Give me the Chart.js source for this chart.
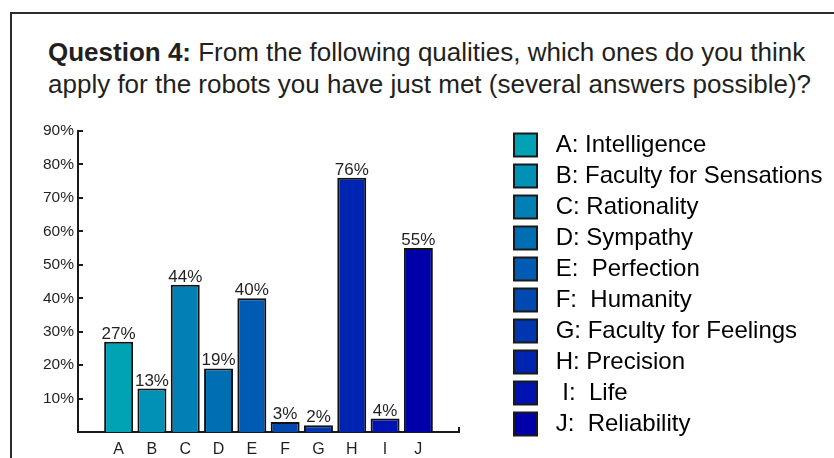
<!DOCTYPE html>
<html>
<head>
<meta charset="utf-8">
<script src="https://cdn.jsdelivr.net/npm/chart.js@4.4.1/dist/chart.umd.min.js"></script>
<style>
  html, body { margin: 0; padding: 0; background: #fff; }
  #wrap { position: relative; width: 834px; height: 458px; overflow: hidden; }
  #moldura { position: absolute; left: 10px; top: 12px; right: -4px; bottom: -4px; border-left: 2px solid #2b2b2b; border-top: 2px solid #2b2b2b; }
  #titulo { position: absolute; left: 48px; top: 36px; margin: 0; font: 26px/32px "Liberation Sans", Arial, sans-serif; color: #231f20; white-space: nowrap; }
  canvas { position: absolute; left: 0; top: 0; }
</style>
</head>
<body>
<div id="wrap">
  <div id="moldura"></div>
  <p id="titulo"><b>Question 4:</b> From the following qualities, which ones do you think<br>apply for the robots you have just met (several answers possible)?</p>
  <canvas id="grafico" width="834" height="458"></canvas>
</div>
<script>
// Dados (percentual de respostas por qualidade)
const letras = ["A", "B", "C", "D", "E", "F", "G", "H", "I", "J"];
const valores = [27, 13, 44, 19, 40, 3, 2, 76, 4, 55];
const nomes = [" A: Intelligence", " B: Faculty for Sensations", " C: Rationality", " D: Sympathy", " E:  Perfection",
  " F:  Humanity", " G: Faculty for Feelings", " H: Precision", "  I:  Life", " J:  Reliability"];
const cores = ["#00a3b4", "#0091b6", "#0080b5", "#006eb2", "#005bb3", "#0049b0", "#0037b0", "#0024b2", "#0012b0", "#0000a8"];

const FONTE = "'Liberation Sans', Arial, sans-serif";
const TINTA = "#231f20";
const EIXO = "#1a1a1a";

Chart.defaults.font.family = FONTE;
Chart.defaults.font.size = 16;
Chart.defaults.color = TINTA;

// marcas internas, traço final do eixo x, rótulos das barras e posição da legenda
const extras = {
  id: "extras",
  afterLayout(chart) {
    const lg = chart.legend;
    lg.left = 507; lg.right = 834; lg.top = 126; lg.bottom = 458;
  },
  afterDraw(chart) {
    const { ctx, chartArea: a, scales: { y } } = chart;
    ctx.save();
    ctx.strokeStyle = EIXO; ctx.lineWidth = 2;
    y.ticks.forEach((t) => {
      if (!t.value) return;
      const py = Math.round(y.getPixelForValue(t.value));
      ctx.beginPath(); ctx.moveTo(a.left, py); ctx.lineTo(a.left + 5, py); ctx.stroke();
    });
    ctx.beginPath(); ctx.moveTo(a.right, a.bottom); ctx.lineTo(a.right, a.bottom - 5); ctx.stroke();

    ctx.fillStyle = TINTA; ctx.font = "17px " + FONTE;
    ctx.textAlign = "center"; ctx.textBaseline = "alphabetic";
    chart.getDatasetMeta(0).data.forEach((bar, i) => ctx.fillText(valores[i] + "%", bar.x, bar.y - 3));
    ctx.restore();
  },
};

new Chart(document.getElementById("grafico"), {
  type: "bar",
  data: {
    datasets: [{
      data: valores.map((v, i) => ({ x: i, y: v })),
      backgroundColor: cores, borderColor: "#111", borderWidth: 2,
      barPercentage: 0.87, categoryPercentage: 1,
    }],
  },
  options: {
    responsive: false, animation: false,
    layout: { padding: { top: 131, right: 75, bottom: 0, left: 0 } },
    plugins: {
      tooltip: { enabled: false },
      legend: {
        position: "right", align: "start", maxWidth: 300,
        labels: {
          boxWidth: 23, boxHeight: 23, padding: 7, color: TINTA, font: { size: 24 },
          generateLabels: () => nomes.map((t, i) => ({
            text: t, fillStyle: cores[i], strokeStyle: "#1a1a1a", lineWidth: 2, hidden: false, index: i, datasetIndex: 0,
          })),
        },
      },
    },
    scales: {
      x: {
        type: "linear", min: -1.22, max: 10.22, offset: false,
        grid: { display: false, drawTicks: false, offset: false },
        border: { color: EIXO, width: 2 },
        ticks: {
          stepSize: 1, includeBounds: false, autoSkip: false, maxRotation: 0, padding: 8,
          color: TINTA, font: { size: 16 },
          callback: (v) => letras[v] ?? "",
        },
        afterFit: (s) => { s.height = 26; },
      },
      y: {
        min: 0, max: 90,
        grid: { display: false, drawTicks: false },
        border: { color: EIXO, width: 2 },
        ticks: {
          stepSize: 10, padding: 4, color: TINTA, font: { size: 15.5 },
          callback: (v) => (v ? v + "%" : ""),
        },
        afterFit: (s) => { s.width = 78; },
      },
    },
  },
  plugins: [extras],
});
</script>
</body>
</html>
